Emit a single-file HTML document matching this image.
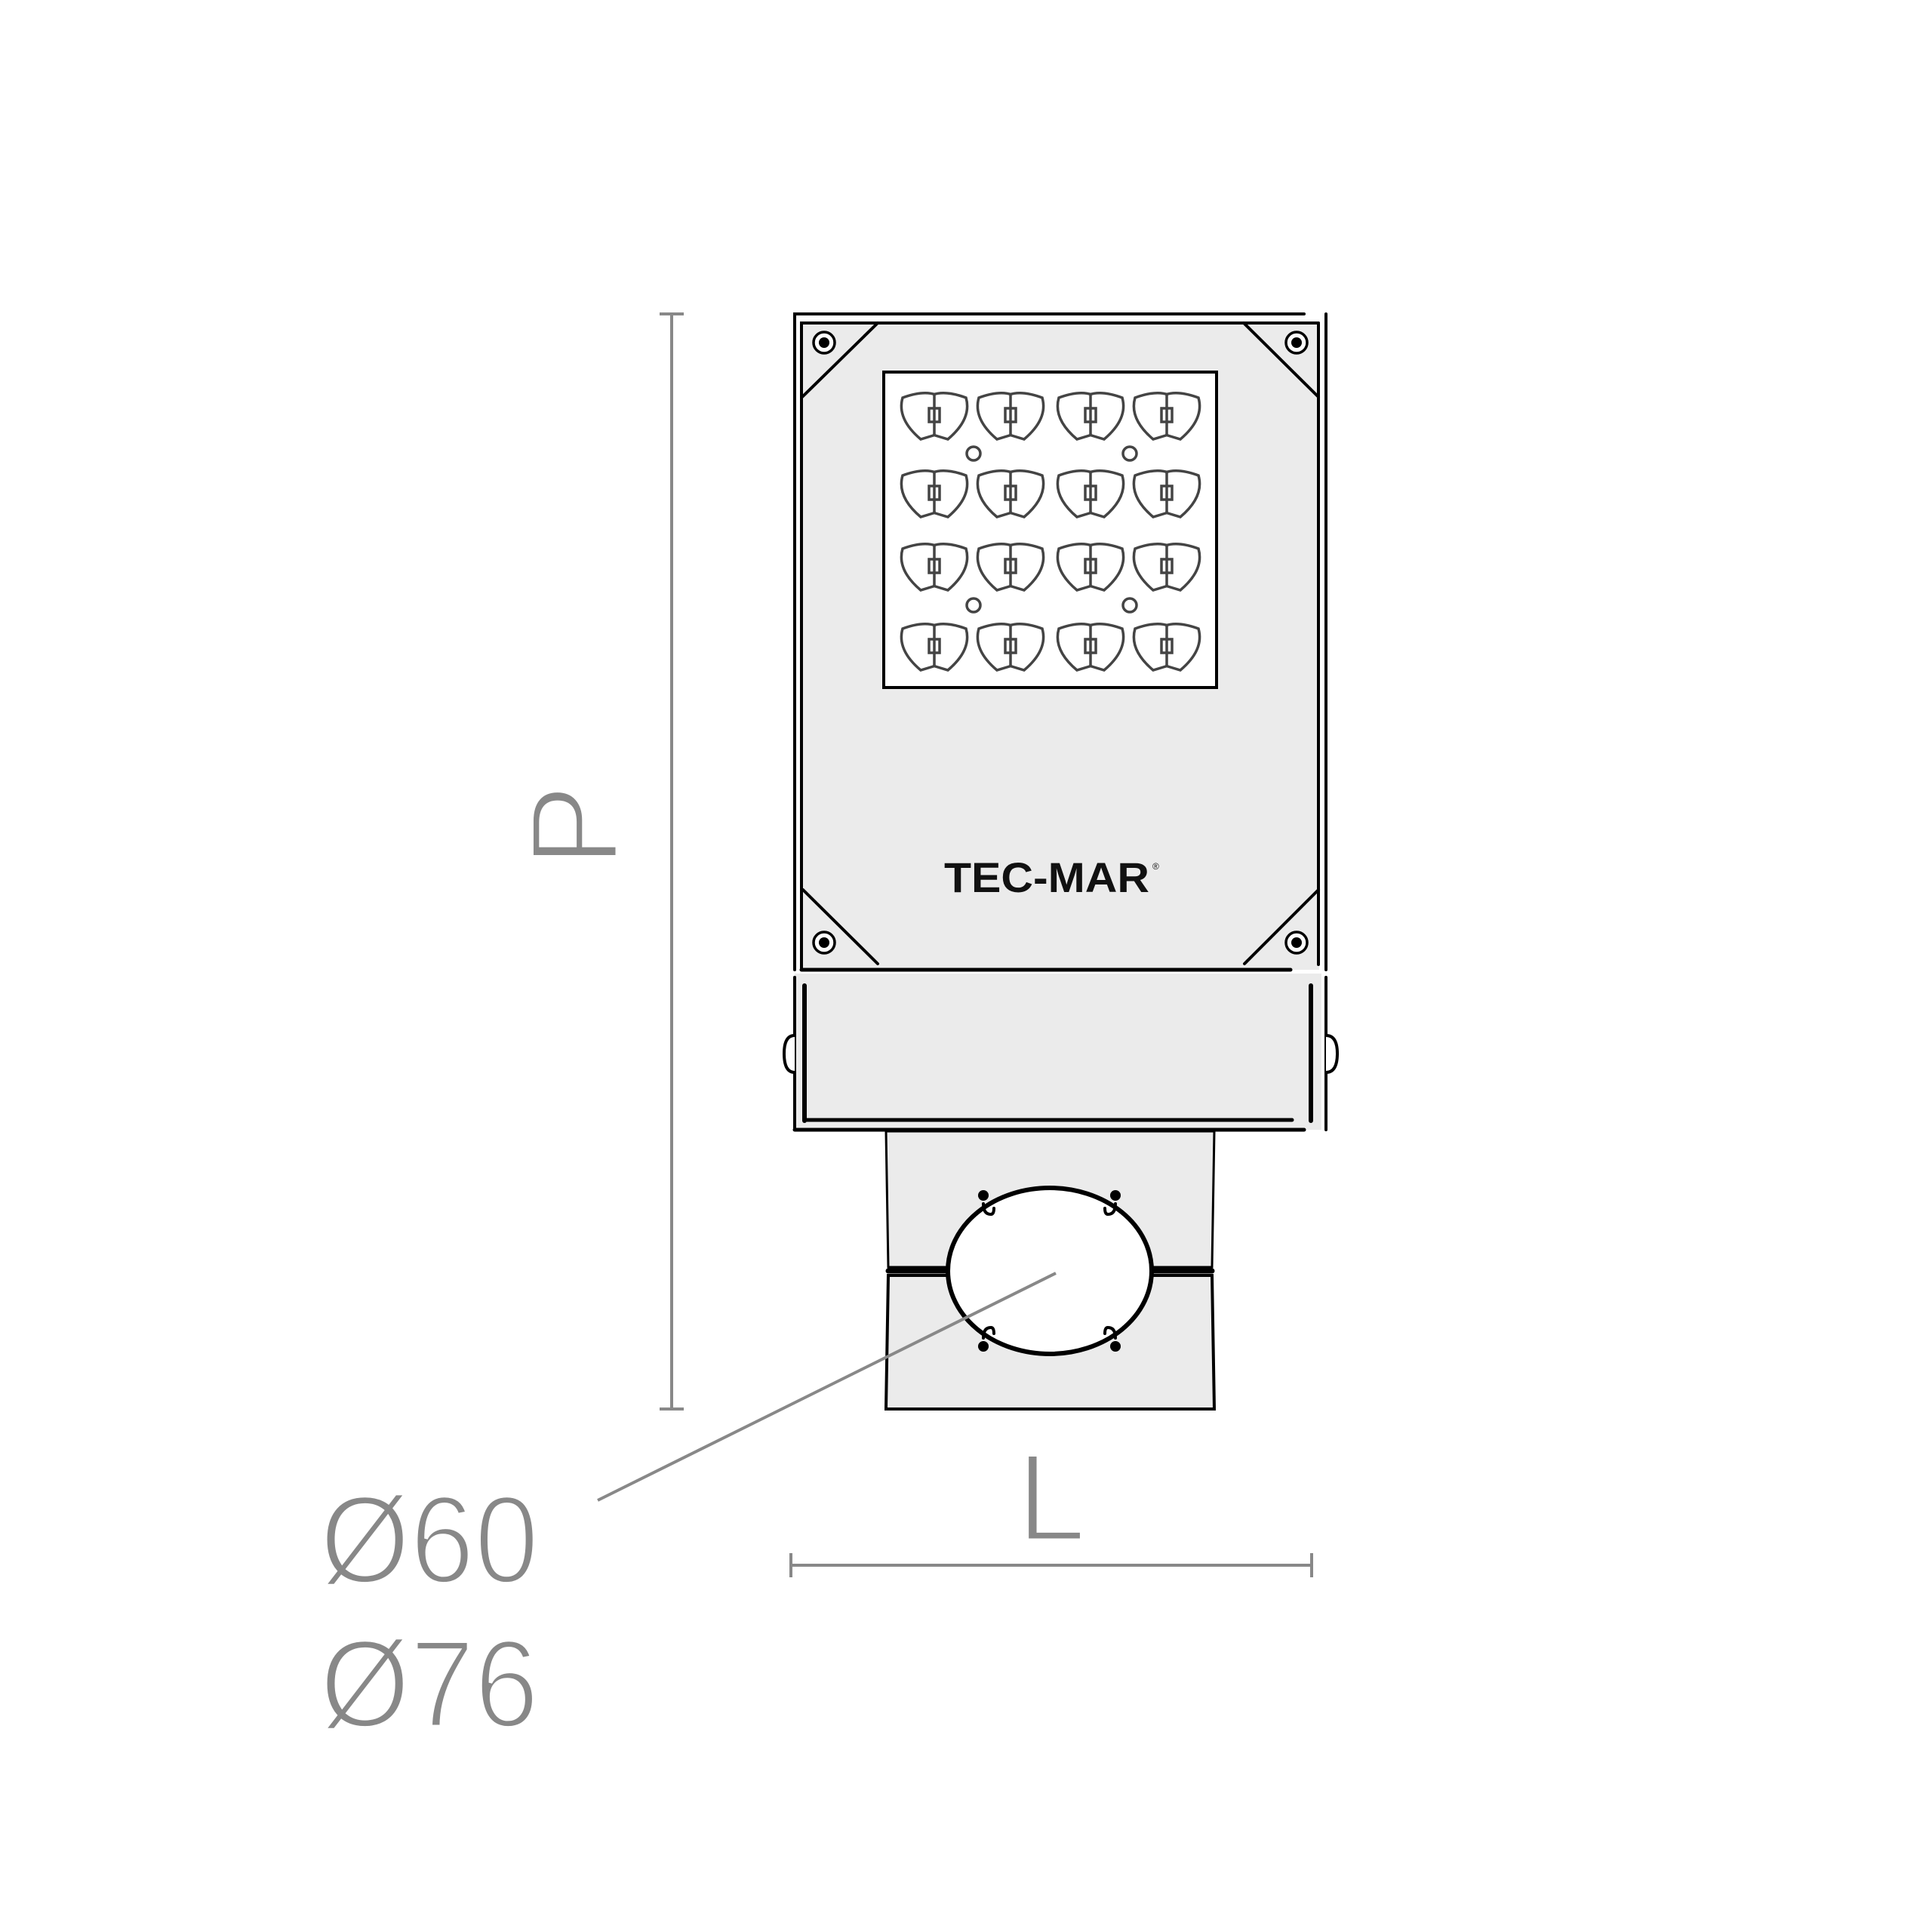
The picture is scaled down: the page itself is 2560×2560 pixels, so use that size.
<!DOCTYPE html>
<html><head><meta charset="utf-8"><style>html,body{margin:0;padding:0;background:#fff}svg{display:block}</style></head><body>
<svg width="2560" height="2560" viewBox="0 0 2560 2560" xmlns="http://www.w3.org/2000/svg">
<defs>
<g id="led" fill="none" stroke="#444" stroke-width="3.5">
<path d="M2,-27 Q-15,-33 -42,-23 Q-50,5 -18,32 L2,26"/>
<path d="M-2,-27 Q15,-33 42,-23 Q50,5 18,32 L-2,26"/>
<rect x="-7" y="-9" width="14" height="18"/>
<line x1="0" y1="-27" x2="0" y2="27"/>
</g>
<g id="screw"><circle r="14" fill="#fff" stroke="#000" stroke-width="3.5"/><circle r="7" fill="#000"/></g>
</defs>
<!-- dimensions -->
<g stroke="#888" stroke-width="4" fill="none">
<line x1="890" y1="416" x2="890" y2="1867"/>
<line x1="874" y1="416" x2="906" y2="416"/>
<line x1="874" y1="1867" x2="906" y2="1867"/>
<line x1="1048" y1="2074" x2="1738" y2="2074"/>
<line x1="1048" y1="2058" x2="1048" y2="2090"/>
<line x1="1738" y1="2058" x2="1738" y2="2090"/>
</g>
<g fill="#888" font-family="Liberation Sans, sans-serif" stroke="#fff" stroke-width="5">
<text x="0" y="0" font-size="165" transform="translate(818,1094) rotate(-90)" text-anchor="middle">P</text>
<text x="1393" y="2041" font-size="165" text-anchor="middle">L</text>
<text x="424" y="2097" font-size="165" textLength="290" lengthAdjust="spacingAndGlyphs">Ø60</text>
<text x="424" y="2288" font-size="165" textLength="290" lengthAdjust="spacingAndGlyphs">Ø76</text>
</g>
<!-- main body -->
<g stroke="#000" stroke-width="4" stroke-linecap="round">
<rect x="1062" y="428" width="686" height="857" fill="#ebebeb" stroke="none"/>
<polyline points="1728,416 1053,416 1053,1285" fill="none"/>
<polyline points="1747,428 1062,428 1062,1285" fill="none"/>
<line x1="1747" y1="428" x2="1747" y2="1278"/>
<line x1="1757" y1="416" x2="1757" y2="1285"/>
<line x1="1163" y1="428" x2="1063" y2="526"/>
<line x1="1648" y1="428" x2="1747" y2="526"/>
<line x1="1064" y1="1179" x2="1163" y2="1277"/>
<line x1="1747" y1="1179" x2="1649" y2="1277"/>
<line x1="1062" y1="1285" x2="1710" y2="1285" stroke-width="5"/>
<!-- bracket -->
<rect x="1053" y="1290" width="698" height="207" fill="#ebebeb" stroke="none"/>
<line x1="1053" y1="1295" x2="1053" y2="1497"/>
<line x1="1053" y1="1497" x2="1728" y2="1497" stroke-width="5"/>
<line x1="1066" y1="1306" x2="1066" y2="1485" stroke-width="6"/>
<line x1="1066" y1="1484" x2="1712" y2="1484" stroke-width="5"/>
<line x1="1737" y1="1306" x2="1737" y2="1485" stroke-width="6"/>
<line x1="1757" y1="1295" x2="1757" y2="1497"/>
<path d="M1053,1372 Q1039,1372 1039,1396 Q1039,1421 1053,1421" fill="#fff"/>
<path d="M1757,1372 Q1772,1372 1772,1396 Q1772,1421 1757,1421" fill="#fff"/>
<!-- clamp -->
<path d="M1174,1499 L1609,1499 L1606,1679 L1177,1679 Z" fill="#ebebeb" stroke-width="3"/>
<path d="M1177,1690 L1606,1690 L1609,1867 L1174,1867 Z" fill="#ebebeb" stroke-width="4"/>
<line x1="1177" y1="1684" x2="1606" y2="1684" stroke-width="7"/>
<ellipse cx="1391" cy="1684" rx="135" ry="110" fill="#fff" stroke-width="6"/>
<g fill="none" stroke-width="4">
<path d="M1303,1595 q0,14 10,14 q4,0 4,-8"/><path d="M1478,1595 q0,14 -10,14 q-4,0 -4,-8"/>
<path d="M1303,1773 q0,-14 10,-14 q4,0 4,8"/><path d="M1478,1773 q0,-14 -10,-14 q-4,0 -4,8"/>
</g>
<g fill="#000" stroke="none"><circle cx="1303" cy="1584" r="7"/><circle cx="1478" cy="1584" r="7"/><circle cx="1303" cy="1784" r="7"/><circle cx="1478" cy="1784" r="7"/></g>
</g>
<!-- LED panel -->
<rect x="1171" y="493" width="441" height="418" fill="#fff" stroke="#000" stroke-width="4"/>
<g>
<use href="#led" x="1238" y="550"/><use href="#led" x="1339" y="550"/><use href="#led" x="1445" y="550"/><use href="#led" x="1546" y="550"/>
<use href="#led" x="1238" y="653"/><use href="#led" x="1339" y="653"/><use href="#led" x="1445" y="653"/><use href="#led" x="1546" y="653"/>
<use href="#led" x="1238" y="750"/><use href="#led" x="1339" y="750"/><use href="#led" x="1445" y="750"/><use href="#led" x="1546" y="750"/>
<use href="#led" x="1238" y="856"/><use href="#led" x="1339" y="856"/><use href="#led" x="1445" y="856"/><use href="#led" x="1546" y="856"/>
</g>
<g fill="none" stroke="#444" stroke-width="3.5">
<circle cx="1290" cy="601" r="9"/><circle cx="1497" cy="601" r="9"/><circle cx="1290" cy="802" r="9"/><circle cx="1497" cy="802" r="9"/>
</g>
<use href="#screw" x="1092" y="454"/><use href="#screw" x="1718" y="454"/>
<use href="#screw" x="1092" y="1249"/><use href="#screw" x="1718" y="1249"/>
<text x="1387" y="1182" font-family="Liberation Sans, sans-serif" font-weight="bold" font-size="56" text-anchor="middle" textLength="272" lengthAdjust="spacingAndGlyphs" fill="#111">TEC-MAR</text>
<text x="1527" y="1152" font-family="Liberation Sans, sans-serif" font-size="12" fill="#111">®</text>
<line x1="1399" y1="1687" x2="792" y2="1988" stroke="#888" stroke-width="4"/>
</svg>
</body></html>
